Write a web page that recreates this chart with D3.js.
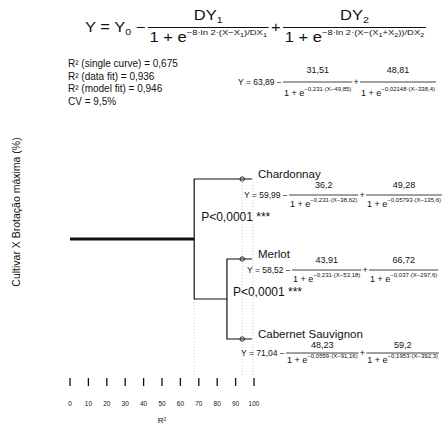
<!DOCTYPE html>
<meta charset="utf-8">
<head>
    <script type="text/javascript" src="https://cdn.jsdelivr.net/npm/d3@7/dist/d3.min.js"></script>
    <style>
        body { margin: 0; background: #fff; }
        text { font-family: "Liberation Sans", Arial, sans-serif; fill: #111; }
        .branch { fill: none; stroke: #111; stroke-width: 1.2; }
        .guide { stroke: #bbb; stroke-width: 0.8; stroke-dasharray: 1,2; }
    </style>
    <title>Cultivar X Brotação máxima</title>
</head>
<body>
<div id="chart"></div>
<script>
    var w = 442, h = 426;

    // data
    var cultivars = ["Chardonnay", "Merlot", "Cabernet Sauvignon"];
    var y0  = [59.99, 58.52, 71.04];
    var dy1 = [36.2, 43.91, 48.23];
    var k1  = [0.231, 0.231, 0.0559];
    var x1  = [38.62, 53.18, 91.16];
    var dy2 = [49.28, 66.72, 59.2];
    var k2  = [0.05793, 0.037, 0.1953];
    var x2  = [135.6, 297.6, 392.3];

    var pooled = {y0: 63.89, dy1: 31.51, k1: 0.231, x1: 49.85, dy2: 48.81, k2: 0.02148, x2: 338.4};

    var stats = ["R² (single curve) = 0,675", "R² (data fit) = 0,936", "R² (model fit) = 0,946", "CV = 9,5%"];

    var leafR2 = 93.6;          // circles
    var guideR2 = [67.5, 93.6, 99.4];
    var rootR2 = 67.5;          // all three join
    var mcR2 = 85.3;            // Merlot + Cabernet join
    var ticks = d3.range(0, 101, 10);

    var svg = d3.select("#chart").append("svg")
        .attr("width", w).attr("height", h);

    var x = d3.scaleLinear().domain([0, 100]).range([70, 254]);
    var y = d3.scalePoint().domain(cultivars).range([179, 339]);

    var fmt = v => String(v).replace(".", ",");

    // rich text helper: segments {t, fs, o(baseline offset)}
    function rich(sel, segs) {
        var cur = 0;
        segs.forEach(s => {
            var off = s.o || 0;
            sel.append("tspan").attr("dy", off - cur).attr("font-size", s.fs).text(s.t);
            cur = off;
        });
        return sel;
    }

    // lead − num1/den1 + num2/den2
    function equation(g, x0, barY, lead, n1, d1, n2, d2, o) {
        var lt = rich(g.append("text").attr("x", x0).attr("y", barY + o.leadOff), lead);
        var cx = x0 + lt.node().getComputedTextLength() + o.gap;
        [[n1, d1], [n2, d2]].forEach((f, i) => {
            var dt = rich(g.append("text").attr("y", barY + o.denOff), f[1]);
            var nt = rich(g.append("text").attr("y", barY + o.numOff), f[0]);
            var wd = Math.max(dt.node().getComputedTextLength(), nt.node().getComputedTextLength()) + o.pad;
            dt.attr("x", cx + wd / 2).attr("text-anchor", "middle");
            nt.attr("x", cx + wd / 2).attr("text-anchor", "middle");
            g.append("line").attr("x1", cx).attr("x2", cx + wd)
                .attr("y1", barY).attr("y2", barY)
                .attr("stroke", "#111").attr("stroke-width", o.bar);
            cx += wd;
            if (i === 0) {
                var p = rich(g.append("text").attr("x", cx + o.gap).attr("y", barY + o.leadOff), [{t: "+", fs: o.fs}]);
                cx += p.node().getComputedTextLength() + 2 * o.gap;
            }
        });
    }

    function smallEq(x0, barY, p, numOff, denOff) {
        var fs = 9, efs = 6;
        var den = (k, xx) => [{t: "1 + e", fs: fs}, {t: "−" + fmt(k) + "·(X−" + fmt(xx) + ")", fs: efs, o: -5}];
        equation(svg.append("g"), x0, barY,
            [{t: "Y = " + fmt(p.y0) + " − ", fs: 8.5}],
            [{t: fmt(p.dy1), fs: fs}], den(p.k1, p.x1),
            [{t: fmt(p.dy2), fs: fs}], den(p.k2, p.x2),
            {fs: fs, leadOff: 3, numOff: numOff, denOff: denOff, gap: 1.2, pad: 2, bar: 0.8});
    }

    // main formula, stretched horizontally like the original
    var mainG = svg.append("g").attr("transform", "translate(85,0) scale(1.18,1) translate(-85,0)");
    equation(mainG, 85, 27.5,
        [{t: "Y = Y", fs: 14}, {t: "0", fs: 9, o: 3}, {t: " − ", fs: 14, o: 0}],
        [{t: "DY", fs: 14}, {t: "1", fs: 9, o: 3}],
        [{t: "1 + e", fs: 14}, {t: "−8·ln 2·(X−X", fs: 8, o: -7}, {t: "1", fs: 6, o: -5},
         {t: ")/DX", fs: 8, o: -7}, {t: "1", fs: 6, o: -5}],
        [{t: "DY", fs: 14}, {t: "2", fs: 9, o: 3}],
        [{t: "1 + e", fs: 14}, {t: "−8·ln 2·(X−(X", fs: 8, o: -7}, {t: "1", fs: 6, o: -5},
         {t: "+X", fs: 8, o: -7}, {t: "2", fs: 6, o: -5}, {t: "))/DX", fs: 8, o: -7}, {t: "2", fs: 6, o: -5}],
        {fs: 14, leadOff: 4.5, numOff: -7, denOff: 14.5, gap: 2, pad: 3, bar: 1});

    // fit statistics
    svg.append("g").selectAll("text").data(stats).enter().append("text")
        .attr("x", 68).attr("y", (d, i) => 67 + i * 12.5)
        .attr("font-size", 10).text(d => d);

    // pooled curve
    smallEq(238, 82, pooled, -9, 14);

    // y axis title
    svg.append("text")
        .attr("transform", "translate(20,212) rotate(-90)")
        .attr("text-anchor", "middle").attr("font-size", 10.5)
        .text("Cultivar X Brotação máxima (%)");

    // guides
    var guideTop = [y("Merlot") / 2 + y("Cabernet Sauvignon") / 2, y("Chardonnay"), y("Chardonnay")];
    svg.append("g").selectAll("line").data(guideR2).enter().append("line")
        .attr("class", "guide")
        .attr("x1", d => x(d)).attr("x2", d => x(d))
        .attr("y1", (d, i) => guideTop[i]).attr("y2", 376);

    // dendrogram
    var mcY = (y("Merlot") + y("Cabernet Sauvignon")) / 2;
    var rootY = (y("Chardonnay") + mcY) / 2;
    var leafEnd = 252;
    svg.append("line").attr("x1", x(0)).attr("x2", x(rootR2))
        .attr("y1", rootY).attr("y2", rootY)
        .attr("stroke", "#111").attr("stroke-width", 3);
    svg.append("path").attr("class", "branch")
        .attr("d", "M" + leafEnd + "," + y("Chardonnay") + "H" + x(rootR2) + "V" + mcY + "H" + x(mcR2));
    svg.append("path").attr("class", "branch")
        .attr("d", "M" + leafEnd + "," + y("Merlot") + "H" + x(mcR2) + "V" + y("Cabernet Sauvignon") + "H" + leafEnd);

    svg.append("g").selectAll("circle").data(cultivars).enter().append("circle")
        .attr("cx", x(leafR2)).attr("cy", d => y(d)).attr("r", 2.2)
        .attr("fill", "none").attr("stroke", "#111").attr("stroke-width", 0.9);

    svg.append("g").selectAll("text").data(cultivars).enter().append("text")
        .attr("x", 258).attr("y", d => y(d) - 1.5)
        .attr("font-size", 11.5).text(d => d);

    // p-values
    svg.append("text").attr("x", x(rootR2) + 7).attr("y", rootY - 18)
        .attr("font-size", 12).text("P<0,0001 ***");
    svg.append("text").attr("x", x(mcR2) + 6).attr("y", mcY - 3)
        .attr("font-size", 12).text("P<0,0001 ***");

    // cultivar equations
    var eqX = [244, 247, 241], eqBar = [195, 270, 353];
    var eqNum = [-7, -7, -5], eqDen = [12, 12, 10];
    cultivars.forEach((c, i) => smallEq(eqX[i], eqBar[i],
        {y0: y0[i], dy1: dy1[i], k1: k1[i], x1: x1[i], dy2: dy2[i], k2: k2[i], x2: x2[i]},
        eqNum[i], eqDen[i]));

    // x axis
    var ax = svg.append("g");
    ax.selectAll("line").data(ticks).enter().append("line")
        .attr("x1", d => x(d)).attr("x2", d => x(d))
        .attr("y1", 378).attr("y2", 386)
        .attr("stroke", "#111").attr("stroke-width", 1.3);
    ax.selectAll("text").data(ticks).enter().append("text")
        .attr("x", d => x(d)).attr("y", 406)
        .attr("text-anchor", "middle").attr("font-size", 6.5).text(d => d);
    svg.append("text").attr("x", x(50)).attr("y", 423)
        .attr("text-anchor", "middle").attr("font-size", 8).text("R²");
</script>
</body>
</html>
